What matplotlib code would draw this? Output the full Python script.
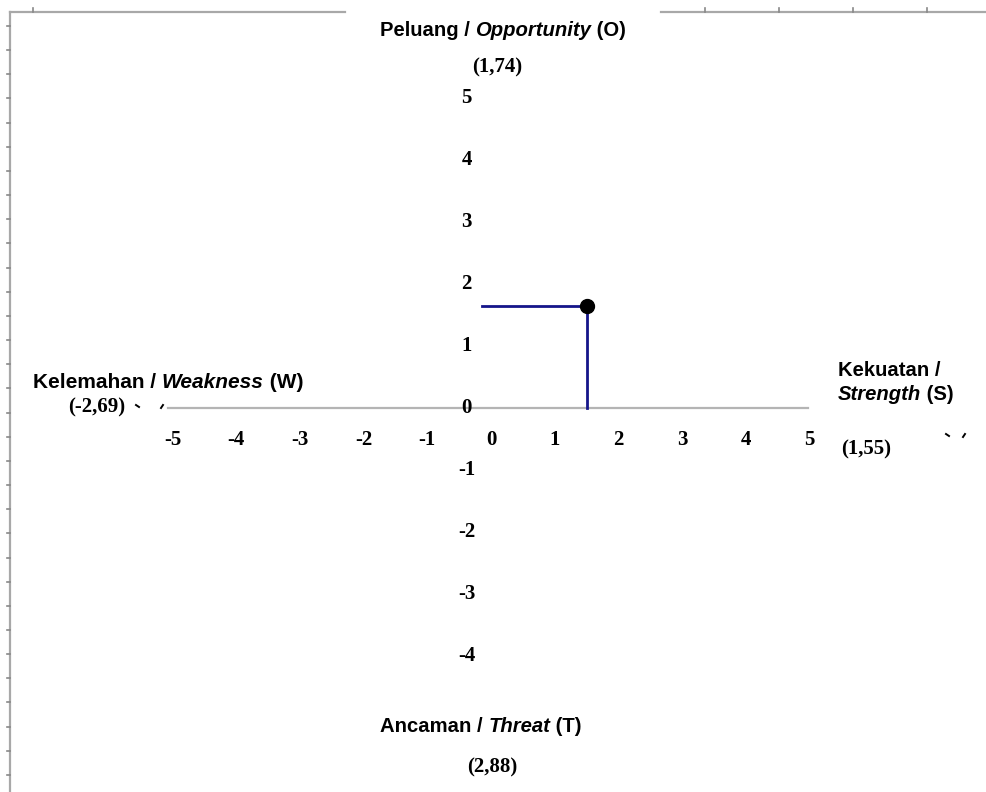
import matplotlib
matplotlib.use('Agg')
import matplotlib.pyplot as plt

W, H = 987, 792

# data
x_ticks = [-5, -4, -3, -2, -1, 0, 1, 2, 3, 4, 5]
y_ticks = [5, 4, 3, 2, 1, 0, -1, -2, -3, -4]
point_x = 1.5
point_y = 1.65
hline_start = -0.14
axis_from = -5.07
axis_to = 4.98

score_o = '(1,74)'
score_w = '(-2,69)'
score_s = '(1,55)'
score_t = '(2,88)'

fig = plt.figure(figsize=(W / 100, H / 100), dpi=100)

# chart axes: x=0 at px 491, y=0 at px 408
ax = fig.add_axes([0, 0, 1, 1])
ax.set_xlim(-491 / 63.7, (W - 491) / 63.7)
ax.set_ylim(-(H - 408) / 62.0, 408 / 62.0)
ax.axis('off')

# overlay in pixel coords for the page frame and labels
deco = fig.add_axes([0, 0, 1, 1], zorder=-1)
deco.set_xlim(0, W)
deco.set_ylim(H, 0)
deco.axis('off')

frame_col = '#a8a8a8'
deco.plot([10, 10], [12, H], color=frame_col, lw=1.6)
deco.plot([10, 345], [12, 12], color=frame_col, lw=1.6)
deco.plot([661, W], [12, 12], color=frame_col, lw=1.6)
for tx in [33, 705, 779, 853, 927]:
    deco.plot([tx, tx], [8, 12], color='#888888', lw=1.2)
for k in range(32):
    ty = 26 + 24.16 * k
    deco.plot([7, 10], [ty, ty], color='#888888', lw=1.2)

# tiny stray marks
for (x0, y0, x1, y1) in [(136, 405, 139, 407), (163, 405, 161, 408),
                         (946, 434, 949, 436), (965, 434, 963, 437)]:
    deco.plot([x0, x1], [y0, y1], color='black', lw=1.4)

# axis line
ax.plot([axis_from, axis_to], [0, 0], color='#b4b4b4', lw=1.6, zorder=1)

# tick labels
serif = dict(family='Liberation Serif', fontweight='bold', fontsize=15,
             ha='center', va='center')
for v in x_ticks:
    ax.text(v, -0.52, f'{v}', **serif)
for v in y_ticks:
    ax.text(-0.38, v, f'{v}', **serif)

# point and guide lines
navy = '#15158a'
ax.plot([hline_start, point_x], [point_y, point_y], color=navy, lw=2, zorder=2)
ax.plot([point_x, point_x], [0, point_y], color=navy, lw=2, zorder=2)
ax.plot(point_x, point_y, 'o', color='black', ms=10, zorder=3)


def rich(x, y, parts, size=14.6):
    prev = None
    for s, style in parts:
        kw = dict(fontsize=size, fontweight='bold', fontstyle=style,
                  family='Liberation Sans', ha='left')
        if prev is None:
            prev = deco.text(x, y, s, va='center', **kw)
        else:
            prev = deco.annotate(s, xy=(1, 0), xycoords=prev, va='bottom', **kw)


rich(380, 30, [('Peluang / ', 'normal'), ('Opportunity', 'italic'), (' (O)', 'normal')])
rich(33, 382, [('Kelemahan / ', 'normal'), ('Weakness', 'italic'), (' (W)', 'normal')], size=15)
rich(838, 371, [('Kekuatan /', 'normal')])
rich(838, 394, [('Strength', 'italic'), (' (S)', 'normal')])
rich(380, 727, [('Ancaman / ', 'normal'), ('Threat', 'italic'), (' (T)', 'normal')])

num = dict(family='Liberation Serif', fontweight='bold', fontsize=15,
           ha='center', va='center')
deco.text(497, 67, score_o, **num)
deco.text(97, 407, score_w, **num)
deco.text(866, 449, score_s, **num)
deco.text(492, 767, score_t, **num)

fig.savefig('out.png', dpi=100)
